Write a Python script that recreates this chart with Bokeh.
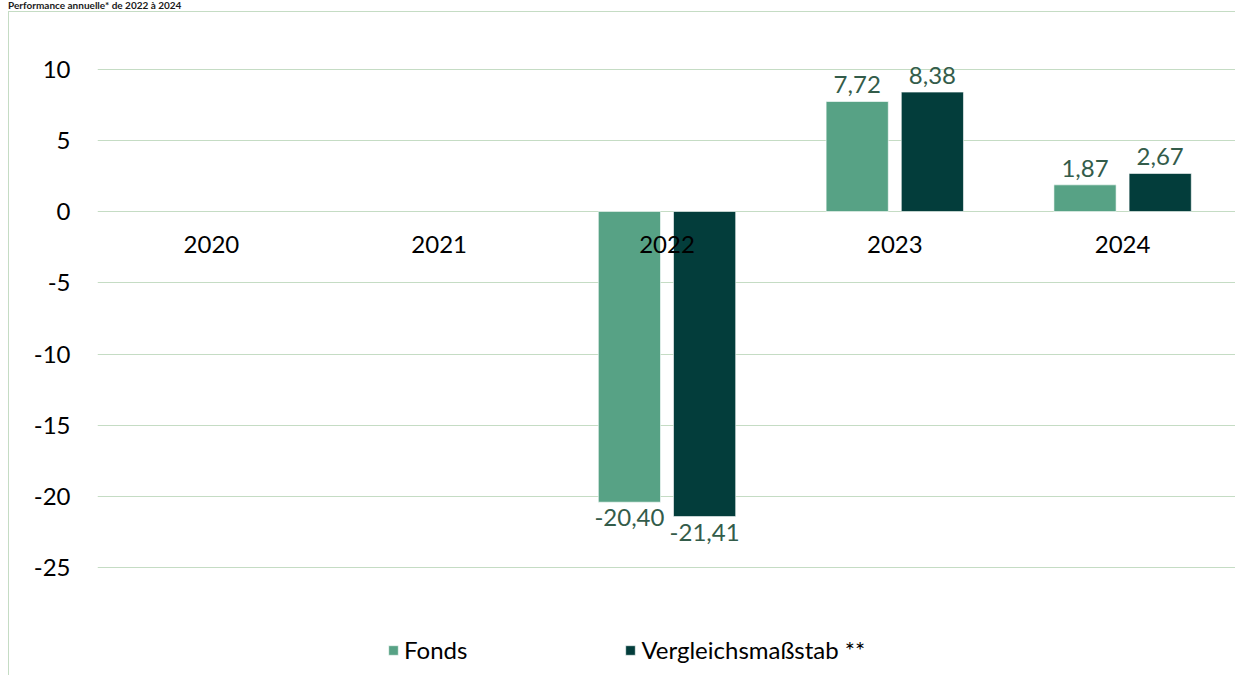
from bokeh.plotting import figure
from bokeh.models import (ColumnDataSource, Range1d, FixedTicker, Legend, LegendItem, Div)
from bokeh.layouts import column
from bokeh.transform import dodge
from bokeh.core.properties import value
from bokeh.embed import file_html
from bokeh.resources import INLINE
import math

# ---- data ----
title_text = "Performance annuelle* de 2022 à 2024"
years = ["2020", "2021", "2022", "2023", "2024"]
fonds = [float("nan"), float("nan"), -20.40, 7.72, 1.87]
benchmark = [float("nan"), float("nan"), -21.41, 8.38, 2.67]
series_names = ["Fonds", "Vergleichsmaßstab **"]
y_ticks = [-25, -20, -15, -10, -5, 0, 5, 10]

FONT = "Lato"
FS = "24px"
C_FONDS = "#57a285"
C_BENCH = "#033d3b"
C_GRID = "#c5dcc4"
C_VAL = "#335c4a"

def fmt(v):
    return f"{v:.2f}".replace(".", ",")

p = figure(x_range=years, y_range=Range1d(-32, 12), width=1227, height=664,
           output_backend="svg", toolbar_location=None,
           min_border_left=88, min_border_right=0, min_border_top=28, min_border_bottom=9)
p.margin = (0, 0, 0, 8)
p.styles = {"border-left": f"1px solid {C_GRID}", "border-top": f"1px solid {C_GRID}",
            "box-sizing": "border-box"}
p.outline_line_color = None
p.background_fill_color = "white"
p.border_fill_color = "white"

p.xaxis.visible = False
p.xgrid.grid_line_color = None
p.ygrid.grid_line_color = C_GRID
p.ygrid.grid_line_width = 1
p.yaxis.ticker = FixedTicker(ticks=y_ticks)
p.yaxis.major_label_overrides = {t: str(t) for t in y_ticks}
p.yaxis.axis_line_color = None
p.yaxis.major_tick_line_color = None
p.yaxis.minor_tick_line_color = None
p.yaxis.major_label_standoff = 21
p.yaxis.major_label_text_font = FONT
p.yaxis.major_label_text_font_size = FS
p.yaxis.major_label_text_color = "#000000"

src = ColumnDataSource(dict(year=years, fonds=fonds, bench=benchmark))
off = 0.165
bw = 0.273
r1 = p.vbar(x=dodge("year", -off, range=p.x_range), top="fonds", bottom=0, width=bw,
            source=src, fill_color=C_FONDS, line_color="white", line_alpha=0.6, line_width=1)
r2 = p.vbar(x=dodge("year", off, range=p.x_range), top="bench", bottom=0, width=bw,
            source=src, fill_color=C_BENCH, line_color="white", line_alpha=0.6, line_width=1)

# category labels at the zero line
p.text(x="year", y=0, text="year", source=ColumnDataSource(dict(year=years)),
       text_font=value(FONT), text_font_size=FS, text_color="#000000",
       text_align="center", text_baseline="middle", y_offset=33)

# value labels
def label_sources(vals):
    pos = dict(x=[], y=[], t=[])
    neg = dict(x=[], y=[], t=[])
    for yr, v in zip(years, vals):
        if v is None or math.isnan(v):
            continue
        d = pos if v >= 0 else neg
        d["x"].append(yr); d["y"].append(v); d["t"].append(fmt(v))
    return ColumnDataSource(pos), ColumnDataSource(neg)

for vals, shift in ((fonds, -off), (benchmark, off)):
    ps, ns = label_sources(vals)
    p.text(x=dodge("x", shift, range=p.x_range), y="y", text="t", source=ps,
           text_font=value(FONT), text_font_size=FS, text_color=C_VAL,
           text_align="center", text_baseline="bottom", y_offset=-8)
    p.text(x=dodge("x", shift, range=p.x_range), y="y", text="t", source=ns,
           text_font=value(FONT), text_font_size=FS, text_color=C_VAL,
           text_align="center", text_baseline="top", y_offset=7)

legend = Legend(items=[LegendItem(label=series_names[0], renderers=[r1]),
                       LegendItem(label=series_names[1], renderers=[r2])],
                location=(290, 3), orientation="horizontal",
                glyph_width=12, glyph_height=12, label_standoff=5, spacing=157,
                padding=0, margin=0, border_line_color=None, background_fill_alpha=0,
                label_text_font=FONT, label_text_font_size=FS, label_text_color="#000000",
                label_height=20)
p.add_layout(legend, "center")

title = Div(text=title_text, width=600, height=11, margin=(0, 0, 0, 8),
            styles={"font-family": FONT, "font-weight": "bold", "font-size": "10px",
                    "line-height": "11px", "color": "#1a1a1a", "white-space": "nowrap"})

layout = column(title, p, spacing=0)
open("out.html", "w").write(file_html(layout, INLINE))
